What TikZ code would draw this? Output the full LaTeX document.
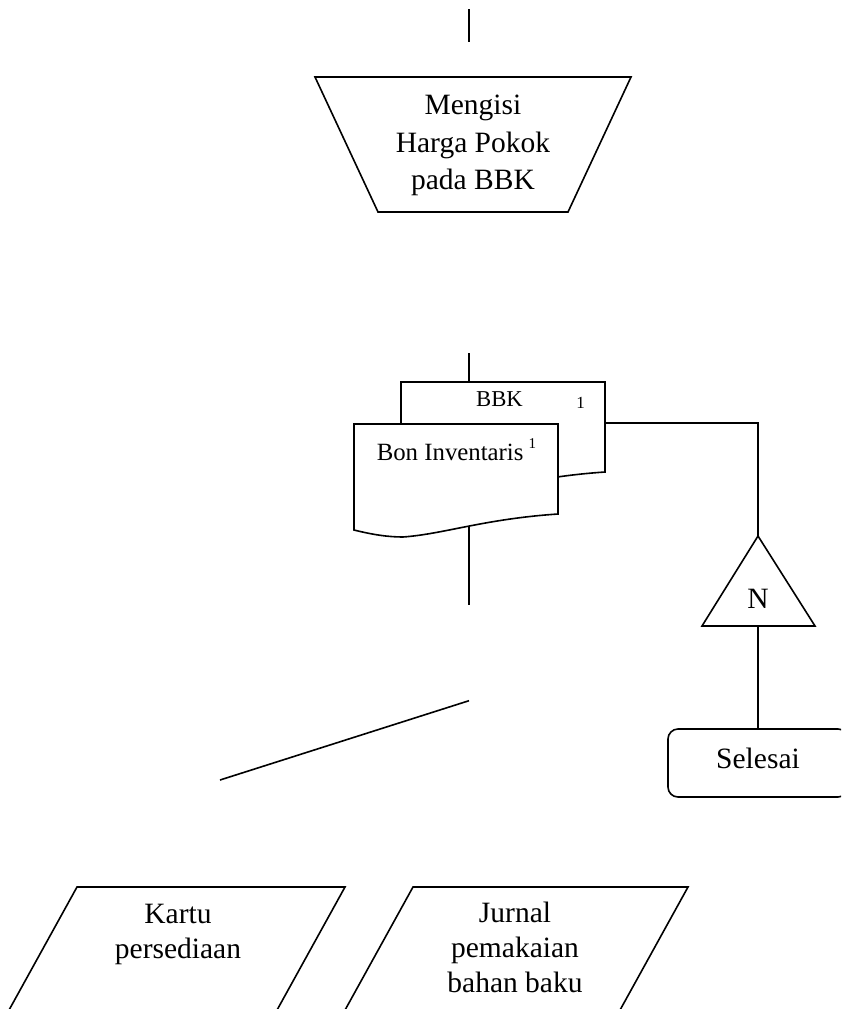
\documentclass[tikz,border=0pt]{standalone}
\usepackage{fontspec}
\setmainfont{Liberation Serif}
\begin{document}
\begin{tikzpicture}[x=1pt,y=-1pt,line width=1.6pt,line join=miter,
  outline/.style={draw=black,fill=white},
  bigtext/.style={font=\fontsize{29.5}{37.3}\selectfont,align=center,inner sep=0pt},
  doctext/.style={font=\fontsize{24.8}{28}\selectfont,inner sep=0pt},
  smalltext/.style={font=\fontsize{22.7}{26}\selectfont,inner sep=0pt},
  pagetext/.style={font=\fontsize{17}{19}\selectfont,inner sep=0pt},
  docshape/.pic={
    \path[outline] (0,0) -- (204,0) -- (204,90)
      .. controls (130,95) and (90,110) .. (49,113)
      .. controls (35,113) and (20,111) .. (0,106) -- cycle;
  }]
\useasboundingbox (0,0) rectangle (841,1009);
\clip (0,0) rectangle (841,1009);

% incoming flow at the top
\coordinate (topA) at (469,9);
\coordinate (topB) at (469,42);
\draw (topA) -- (topB);

% manual operation
\path[outline] (315,77) -- (631,77) -- (568,212) -- (378,212) -- cycle;
\node[bigtext] (isi) at (473,145.4) {Mengisi\\Harga Pokok\\pada BBK};

% documents: BBK behind, Bon Inventaris in front
\coordinate (docin) at (469,353);
\coordinate (bbktop) at (469,382);
\draw (docin) -- (bbktop);
\pic at (401,382) {docshape};
\pic at (354,424) {docshape};
\node[smalltext,anchor=base] (bbk) at (499.5,406) {BBK};
\node[pagetext,anchor=base] (bbkno) at (580.7,408) {1};
\node[doctext,anchor=base west] (bon) at (376,460.7)
  {Bon Inventaris\hspace{5pt}\raisebox{12.7pt}{\fontsize{15}{15}\selectfont 1}};

% flow out of the documents
\coordinate (docout) at (469,527);
\coordinate (docend) at (469,605);
\draw (docout) -- (docend);

\coordinate (slantA) at (469,700.7);
\coordinate (slantB) at (220,780);
\draw (slantA) -- (slantB);

% file and end
\coordinate (bbkright) at (605,423);
\coordinate (fileapex) at (758,536);
\coordinate (filebase) at (758,626);
\path[outline] (fileapex) -- (815,626) -- (702,626) -- cycle;
\node[bigtext,anchor=base] (file) at (758,608) {N};
\draw (bbkright) -| (fileapex);

\node[draw,rounded corners=10pt,minimum width=180pt,minimum height=68pt,
  bigtext,text height=10pt,text depth=0pt] (selesai) at (758,763) {Selesai};
\draw (filebase) -- (selesai.north);

% output ledgers
\path[outline] (77,887) -- (345,887) -- (266,1030) -- (-2,1030) -- cycle;
\node[bigtext,font=\fontsize{29.5}{35.7}\selectfont] (kartu) at (178,934.6) {Kartu\\persediaan};
\path[outline] (413,887) -- (688,887) -- (609,1030) -- (334,1030) -- cycle;
\node[bigtext,font=\fontsize{29.5}{35}\selectfont] (jurnal) at (515,947.8) {Jurnal\\pemakaian\\bahan baku};
\end{tikzpicture}
\end{document}
